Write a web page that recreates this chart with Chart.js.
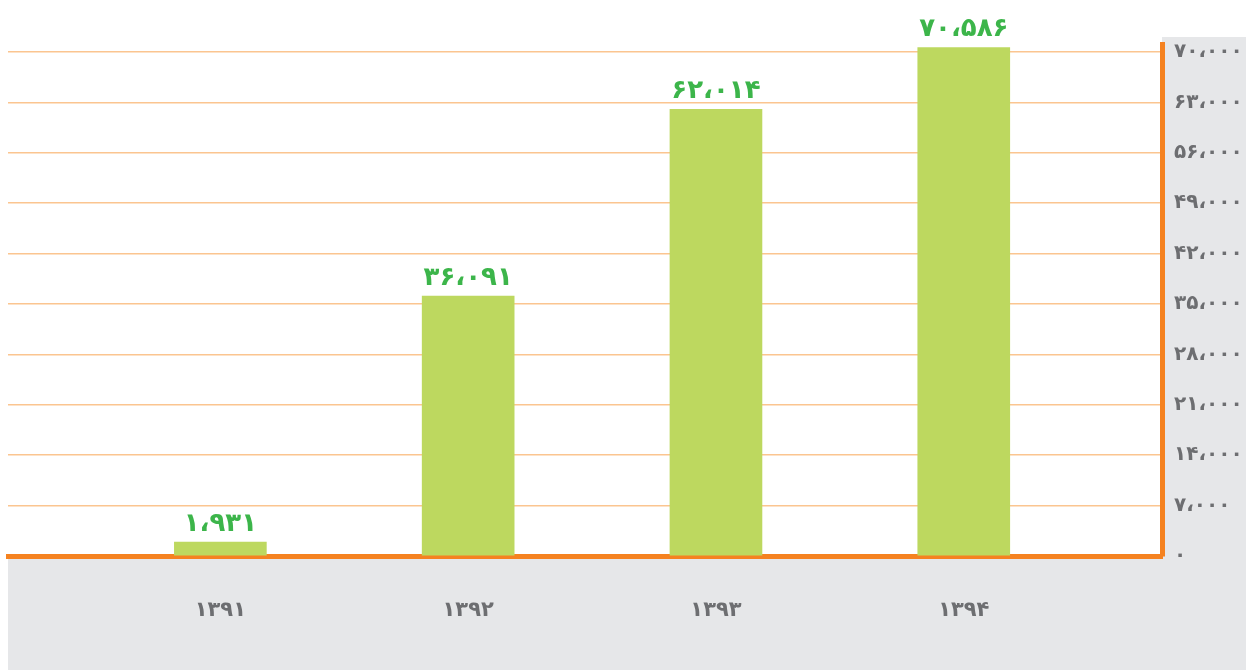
<!DOCTYPE html>
<html>
<head>
<meta charset="utf-8">
<script src="https://cdn.jsdelivr.net/npm/chart.js@4.4.1/dist/chart.umd.min.js"></script>
<style>
html, body { margin: 0; padding: 0; background: #fff; }
#chartBox { width: 1246px; height: 670px; }
</style>
</head>
<body>
<div id="chartBox"><canvas id="chartArea"></canvas></div>
<script>
// years and values
var years = ['۱۳۹۱', '۱۳۹۲', '۱۳۹۳', '۱۳۹۴'];
var values = [1931, 36091, 62014, 70586];
var yTicks = [0, 7000, 14000, 21000, 28000, 35000, 42000, 49000, 56000, 63000, 70000];

var faDigits = '۰۱۲۳۴۵۶۷۸۹';
function toFa(n) {
    var s = String(Math.round(n)).replace(/\B(?=(\d{3})+(?!\d))/g, '،');
    return s.replace(/\d/g, function (d) { return faDigits[parseInt(d)]; });
}

// grey panels under the x axis and right of the y axis
var panelPlugin = {
    id: 'panels',
    beforeDraw: function (chart) {
        var c = chart.ctx, a = chart.chartArea;
        c.save();
        c.fillStyle = '#e6e7e9';
        c.fillRect(a.left, a.bottom, chart.width - a.left, chart.height - a.bottom);
        c.fillRect(a.right, a.top - 7, chart.width - a.right, a.bottom - a.top + 7);
        c.restore();
    }
};

// value labels above bars
var valuePlugin = {
    id: 'valueLabels',
    afterDatasetsDraw: function (chart) {
        var c = chart.ctx;
        var meta = chart.getDatasetMeta(0);
        c.save();
        c.fillStyle = '#3cb54a';
        c.font = 'bold 26px "DejaVu Sans"';
        c.textAlign = 'center';
        c.textBaseline = 'bottom';
        meta.data.forEach(function (bar, i) {
            c.fillText(toFa(values[i]), bar.x, bar.y - 5);
        });
        c.restore();
    }
};

var points = values.map(function (v, i) { return { x: i + 1, y: v }; });

var config = {
    type: 'bar',
    data: {
        datasets: [{
            data: points,
            backgroundColor: '#bdd85f',
            barThickness: 92,
            borderWidth: 0
        }]
    },
    options: {
        responsive: false,
        animation: false,
        layout: { padding: { left: 8, top: 44, right: 0, bottom: 0 } },
        plugins: {
            legend: { display: false },
            tooltip: { enabled: false }
        },
        scales: {
            x: {
                type: 'linear',
                offset: false,
                min: 0.143,
                max: 4.8,
                grid: { display: false, drawTicks: false },
                border: { display: true, color: '#f58220', width: 5 },
                ticks: {
                    stepSize: 1,
                    includeBounds: false,
                    padding: 42,
                    color: '#6d6e71',
                    font: { family: 'DejaVu Sans', size: 21, weight: 'bold' },
                    callback: function (v) { return years[v - 1] || ''; }
                },
                afterFit: function (s) { s.height = 114; }
            },
            y: {
                position: 'right',
                min: 0,
                max: 71100,
                grid: { color: '#fbc590', lineWidth: 1.5, drawTicks: false },
                border: { display: true, color: '#f58220', width: 5 },
                afterBuildTicks: function (s) {
                    s.ticks = yTicks.map(function (v) { return { value: v }; });
                },
                ticks: {
                    padding: 12,
                    color: '#6d6e71',
                    font: { family: 'DejaVu Sans', size: 20, weight: 'bold' },
                    callback: function (v) { return toFa(v); }
                },
                afterFit: function (s) { s.width = 84; }
            }
        }
    },
    plugins: [panelPlugin, valuePlugin]
};

var canvas = document.getElementById('chartArea');
canvas.width = 1246;
canvas.height = 670;
var ctx = canvas.getContext('2d');
var myChart = new Chart(ctx, config);
</script>
</body>
</html>
